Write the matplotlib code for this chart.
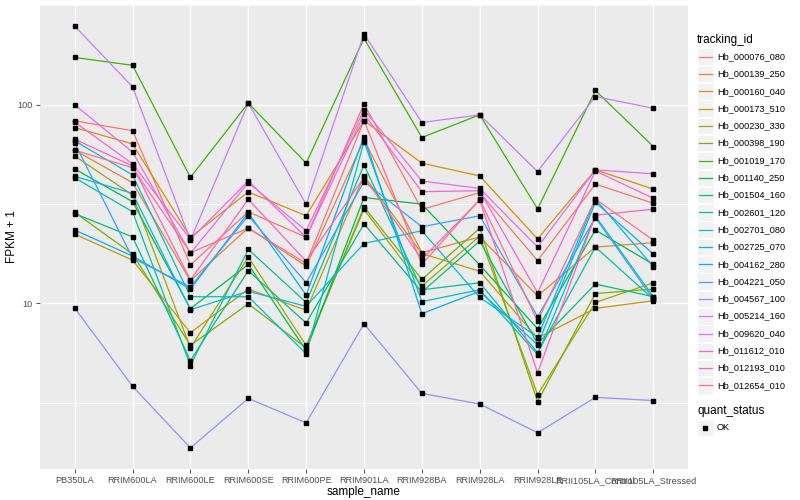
import numpy as np
import matplotlib
matplotlib.use("Agg")
import matplotlib.pyplot as plt
from matplotlib.lines import Line2D
from matplotlib.patches import Rectangle

plt.rcParams['font.family'] = ['Liberation Sans', 'DejaVu Sans']

# samples on the x axis
samples = ['PB350LA', 'RRIM600LA', 'RRIM600LE', 'RRIM600SE', 'RRIM600PE',
           'RRIM901LA', 'RRIM928BA', 'RRIM928LA', 'RRIM928LE',
           'RRII105LA_Control', 'RRII105LA_Stressed']

genes = ['Hb_000076_080', 'Hb_000139_250', 'Hb_000160_040', 'Hb_000173_510',
         'Hb_000230_330', 'Hb_000398_190', 'Hb_001019_170', 'Hb_001140_250',
         'Hb_001504_160', 'Hb_002601_120', 'Hb_002701_080', 'Hb_002725_070',
         'Hb_004162_280', 'Hb_004221_050', 'Hb_004567_100', 'Hb_005214_160',
         'Hb_009620_040', 'Hb_011612_010', 'Hb_012193_010', 'Hb_012654_010']

# FPKM + 1, one list per gene (same order as genes)
fpkm = [
    [83, 74, 15.6, 28.9, 21.5, 101, 29.7, 36.1, 16.4, 39.9, 31.9],
    [59, 40.5, 13, 24, 15.4, 66.6, 18, 21.6, 10.9, 19.2, 20.2],
    [76.8, 63.5, 21.5, 36.4, 27.6, 83.3, 50.8, 43.8, 21.1, 47, 37.6],
    [22.3, 16.5, 7.11, 11.8, 9.22, 43.8, 17.8, 14.5, 6.68, 9.43, 10.3],
    [55.2, 35.1, 5.97, 17.1, 6.14, 29.7, 12.2, 21.8, 3.47, 10.1, 12.7],
    [28.7, 17.7, 6.14, 9.94, 5.96, 30.6, 13.2, 23.9, 3.2, 11.2, 11.8],
    [173, 158, 43.1, 102, 50.8, 216, 68.4, 89, 29.9, 118, 61.6],
    [47.5, 32.5, 9.4, 15.7, 5.79, 34.1, 31.6, 15.6, 7.45, 23.4, 15.7],
    [28.3, 21.6, 5.15, 14.6, 7.96, 25.1, 11.4, 20.6, 6.26, 12.5, 10.8],
    [42.9, 28.9, 4.86, 18.7, 10.1, 49.8, 11.7, 12.7, 5.64, 19.2, 10.5],
    [65.8, 44.3, 10.8, 10.8, 5.57, 65.3, 10.2, 11.7, 5.52, 27.5, 10.8],
    [43.6, 35.8, 9.29, 11.5, 9.66, 20, 23.2, 10.7, 6.76, 33.5, 15.3],
    [23.4, 17.3, 11.8, 28.6, 11, 69.2, 8.87, 11.5, 6.18, 32.3, 17.7],
    [64.1, 16.9, 12.1, 27.6, 12.7, 41, 24.3, 27.6, 8.57, 27, 10.5],
    [9.47, 3.82, 1.87, 3.32, 2.50, 7.89, 3.52, 3.11, 2.23, 3.36, 3.24],
    [249, 123, 20.8, 102, 31.5, 227, 81.4, 89, 46.1, 110, 96],
    [100, 57.7, 17.9, 40.5, 23.2, 94.4, 41.3, 37.9, 19.2, 47, 44.9],
    [81.8, 50.4, 21, 41.3, 21.5, 89.8, 36.5, 36.9, 11.3, 46.4, 33.8],
    [67.1, 49.2, 13.1, 33.4, 16.3, 43.1, 16.7, 33.1, 4.47, 27.8, 29.8],
    [59, 48.2, 18, 23.9, 15.9, 83.3, 15.7, 33.4, 8.14, 33.5, 20.8],
]

# ggplot default hue palette for 20 levels
colors = ['#F8766D', '#EA8331', '#D89000', '#C09B00', '#A3A500', '#7CAE00',
          '#39B600', '#00BB4E', '#00BF7D', '#00C1A3', '#00BFC4', '#00BAE0',
          '#00B0F6', '#35A2FF', '#9590FF', '#C77CFF', '#E76BF3', '#FA62DB',
          '#FF62BC', '#FF6C91']

fig = plt.figure(figsize=(8, 5), dpi=100)
ax = fig.add_axes([0.05, 0.062, 0.81, 0.928])
ax.set_facecolor('#EBEBEB')

x = np.arange(len(samples))
for vals, col in zip(fpkm, colors):
    ax.plot(x, vals, color=col, lw=0.9, zorder=3)
for vals in fpkm:
    ax.plot(x, vals, ls='none', marker='s', ms=2.6, color='black', zorder=4)

ax.set_yscale('log')
lo, hi = np.log10(np.min(fpkm)), np.log10(np.max(fpkm))
pad = (hi - lo) * 0.05
ax.set_ylim(10 ** (lo - pad), 10 ** (hi + pad))
ax.set_xlim(-0.6, len(samples) - 0.4)

ax.set_yticks([10, 100])
ax.set_yticklabels(['10', '100'])
ax.set_yticks([10 ** 0.5, 10 ** 1.5, 10 ** 2.5], minor=True)
ax.yaxis.set_minor_formatter(plt.NullFormatter())
ax.tick_params(axis='y', which='minor', length=0)
ax.set_xticks(x)
ax.set_xticklabels(samples)
ax.tick_params(axis='both', which='major', length=3, width=0.6, color='#333333',
               labelsize=6.6, labelcolor='#4D4D4D', pad=2)

ax.grid(True, which='major', color='white', lw=1.0)
ax.grid(True, which='minor', axis='y', color='white', lw=0.5)
ax.set_axisbelow(True)
for s in ax.spines.values():
    s.set_visible(False)

ax.set_xlabel('sample_name', fontsize=8.5, labelpad=1)
ax.set_ylabel('FPKM + 1', fontsize=8.5)
ax.yaxis.set_label_coords(-0.034, 0.5)

# legend drawn by hand, ggplot style
W, H = 800.0, 500.0
fig.text(697 / W, 1 - 40 / H, 'tracking_id', fontsize=8.5, va='center', ha='left')
for i, (g, col) in enumerate(zip(genes, colors)):
    yc = 56.7 + i * 17.3
    fig.add_artist(Rectangle((697 / W, 1 - (yc + 8.3) / H), 16 / W, 16.6 / H,
                             transform=fig.transFigure, facecolor='#F2F2F2',
                             edgecolor='white', lw=0.5))
    fig.add_artist(Line2D([698.5 / W, 711.5 / W], [1 - yc / H, 1 - yc / H],
                          transform=fig.transFigure, color=col, lw=0.9))
    fig.text(717 / W, 1 - yc / H, g, fontsize=6.6, va='center', ha='left')

fig.text(697 / W, 1 - 411 / H, 'quant_status', fontsize=8.5, va='center', ha='left')
fig.add_artist(Rectangle((697 / W, 1 - (428 + 8.3) / H), 16 / W, 16.6 / H,
                         transform=fig.transFigure, facecolor='#F2F2F2',
                         edgecolor='white', lw=0.5))
fig.add_artist(Line2D([705 / W], [1 - 428 / H], transform=fig.transFigure,
                      ls='none', marker='s', ms=2.6, color='black'))
fig.text(717 / W, 1 - 428 / H, 'OK', fontsize=6.6, va='center', ha='left')

fig.savefig('out.png', dpi=100)
